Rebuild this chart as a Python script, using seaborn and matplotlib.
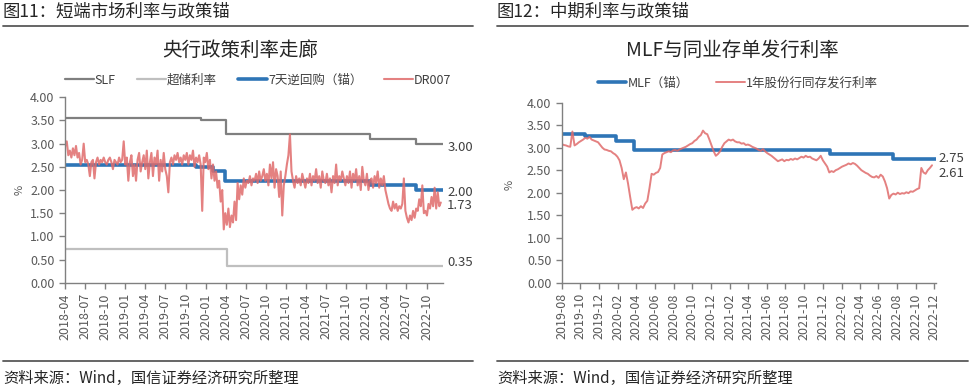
"""图11/图12：短端与中期利率、政策锚（seaborn 复刻）。"""

import matplotlib
matplotlib.use("Agg")
import matplotlib.pyplot as plt
import matplotlib.dates as mdates
from matplotlib.lines import Line2D
import numpy as np
import pandas as pd
import seaborn as sns

# ---------------- 数据：图11 ----------------
slf_fechas = ["2018-04-01", "2019-12-12", "2020-04-01", "2022-01-17", "2022-08-15", "2022-12-15"]
slf_valores = [3.55, 3.50, 3.20, 3.10, 3.00, 3.00]

exceso_fechas = ["2018-04-01", "2020-04-07", "2022-12-15"]
exceso_valores = [0.72, 0.35, 0.35]

repo_fechas = ["2018-04-01", "2019-11-18", "2020-02-03", "2020-03-30",
               "2022-01-17", "2022-08-15", "2022-12-15"]
repo_valores = [2.55, 2.50, 2.40, 2.20, 2.10, 2.00, 2.00]

# DR007 semanal desde 2018-04-02 (un trimestre por fila)
dr007_inicio = "2018-04-02"
dr007_valores = [
    2.95, 3.05, 2.75, 2.85, 2.70, 2.90, 2.75, 2.95, 2.70, 2.80, 2.55, 2.65, 3.00,
    2.60, 2.65, 2.55, 2.30, 2.60, 2.65, 2.25, 2.60, 2.70, 2.55, 2.65, 2.60, 2.70,
    2.60, 2.55, 2.65, 2.70, 2.60, 2.45, 2.65, 2.60, 2.55, 2.70, 2.60, 2.65, 3.05,
    2.55, 2.70, 2.20, 2.60, 2.75, 2.30, 2.55, 2.20, 2.65, 2.80, 2.40, 2.60, 2.75,
    2.45, 2.85, 2.25, 2.60, 2.80, 2.30, 2.70, 2.55, 2.85, 2.20, 2.65, 2.40, 2.80,
    2.45, 2.30, 1.95, 2.60, 2.70, 2.55, 2.75, 2.65, 2.80, 2.60, 2.70, 2.55, 2.75,
    2.65, 2.80, 2.55, 2.75, 2.65, 2.85, 2.50, 2.70, 2.60, 2.75, 2.55, 1.55, 2.70,
    2.60, 2.80, 2.45, 2.65, 2.25, 2.55, 2.20, 2.40, 2.05, 2.20, 1.75, 2.00, 1.15,
    1.50, 1.25, 1.60, 1.20, 1.45, 1.30, 1.75, 1.35, 2.15, 1.80, 2.10, 1.90, 2.25,
    2.05, 2.20, 2.15, 2.30, 2.10, 2.25, 2.20, 2.35, 2.15, 2.40, 2.20, 2.30, 2.45,
    2.20, 2.35, 2.10, 2.55, 2.25, 2.60, 2.05, 2.45, 2.30, 1.85, 2.40, 1.45, 2.10,
    2.30, 2.55, 2.75, 3.20, 2.40, 2.20, 2.05, 2.30, 2.15, 2.25, 2.10, 2.35, 2.20,
    2.05, 2.25, 2.15, 2.35, 2.10, 2.30, 2.20, 2.45, 2.15, 2.30, 2.05, 2.40, 2.20,
    2.15, 2.35, 2.10, 2.25, 1.95, 2.30, 2.15, 2.55, 2.10, 2.30, 2.20, 2.40, 2.25,
    2.10, 2.30, 2.15, 2.40, 2.05, 2.35, 2.20, 2.45, 2.10, 2.30, 2.00, 2.50, 2.20,
    2.10, 2.35, 2.00, 2.20, 2.25, 2.05, 2.30, 2.15, 2.40, 2.05, 2.25, 2.10, 2.30,
    2.00, 1.85, 1.70, 1.60, 1.55, 1.75, 1.60, 1.70, 1.55, 1.65, 1.60, 1.70, 2.25,
    1.55, 1.40, 1.30, 1.45, 1.35, 1.55, 1.40, 1.60, 1.55, 1.80, 1.65, 2.10, 1.50,
    1.55, 1.45, 1.70, 1.60, 1.85, 1.65, 2.05, 1.60, 1.95, 1.65, 1.73,
]

# ---------------- 数据：图12 ----------------
mlf_fechas = ["2019-08-01", "2019-10-17", "2020-01-27", "2020-03-24",
              "2021-12-25", "2022-07-20", "2022-12-06"]
mlf_valores = [3.30, 3.25, 3.15, 2.95, 2.85, 2.75, 2.75]

# 1年股份行同存发行利率, semanal desde 2019-08-01
ncd_inicio = "2019-08-01"
ncd_valores = [
    3.08, 3.06, 3.05, 3.03, 3.02, 3.36, 3.05, 3.08, 3.12, 3.15,
    3.18, 3.22, 3.20, 3.24, 3.18, 3.16, 3.14, 3.12, 3.06, 3.00,
    2.96, 2.95, 2.93, 2.92, 2.88, 2.85, 2.80, 2.72, 2.55, 2.30,
    2.45, 2.20, 1.90, 1.62, 1.66, 1.68, 1.65, 1.70, 1.66, 1.76,
    1.82, 2.10, 2.42, 2.40, 2.44, 2.46, 2.55, 2.85, 2.88, 2.90,
    2.92, 2.90, 2.94, 2.95, 2.93, 2.96, 2.98, 3.00, 3.02, 3.05,
    3.08, 3.10, 3.15, 3.18, 3.24, 3.28, 3.38, 3.32, 3.30, 3.18,
    3.05, 2.92, 2.82, 2.86, 2.92, 3.02, 3.10, 3.14, 3.18, 3.16,
    3.18, 3.14, 3.12, 3.12, 3.09, 3.10, 3.06, 3.07, 3.05, 3.02,
    3.00, 2.98, 2.95, 2.93, 2.97, 2.92, 2.88, 2.85, 2.82, 2.78,
    2.74, 2.70, 2.72, 2.74, 2.70, 2.73, 2.72, 2.75, 2.73, 2.76,
    2.74, 2.77, 2.80, 2.78, 2.82, 2.79, 2.80, 2.76, 2.74, 2.72,
    2.76, 2.82, 2.72, 2.65, 2.58, 2.45, 2.48, 2.46, 2.50, 2.52,
    2.55, 2.58, 2.60, 2.62, 2.65, 2.63, 2.66, 2.64, 2.60, 2.55,
    2.50, 2.47, 2.44, 2.42, 2.38, 2.35, 2.34, 2.37, 2.33, 2.40,
    2.36, 2.25, 2.10, 1.87, 1.95, 1.98, 1.96, 2.00, 1.97, 1.99,
    1.98, 2.01, 1.99, 2.03, 2.02, 2.05, 2.08, 2.10, 2.55, 2.45,
    2.42, 2.50, 2.55, 2.61,
]

# ---------------- 样式 ----------------
COLOR_SLF = "#7f7f7f"
COLOR_EXC = "#bfbfbf"
COLOR_AZUL = "#2e75b6"
COLOR_ROSA = "#e06b6b"
COLOR_TEXTO = "#404040"
COLOR_EJE = "#808080"

sns.set_theme(style="ticks")
plt.rcParams["font.family"] = ["Noto Sans CJK SC", "DejaVu Sans"]
plt.rcParams["axes.unicode_minus"] = False


def serie(fechas, valores):
    return pd.DataFrame({"fecha": pd.to_datetime(fechas), "valor": valores})


def serie_semanal(inicio, valores):
    fechas = pd.date_range(inicio, periods=len(valores), freq="7D")
    return pd.DataFrame({"fecha": fechas, "valor": valores})


def estilo_ejes(ax):
    for lado in ["top", "right"]:
        ax.spines[lado].set_visible(False)
    for lado in ["left", "bottom"]:
        ax.spines[lado].set_color(COLOR_EJE)
        ax.spines[lado].set_linewidth(1.0)
    ax.set_ylim(0, 4)
    ax.set_yticks(np.arange(0, 4.01, 0.5))
    ax.yaxis.set_major_formatter(plt.FuncFormatter(lambda v, _: f"{v:.2f}"))
    ax.tick_params(axis="both", direction="out", length=4, width=1.0,
                   color=COLOR_EJE, labelcolor="#595959", labelsize=9)
    ax.tick_params(axis="x", rotation=90)
    ax.set_xlabel("")
    ax.set_ylabel("")
    ax.grid(False)


fig = plt.figure(figsize=(9.69, 3.9), dpi=100)

# ---------------- 图11 ----------------
ax1 = fig.add_axes([65 / 969, 0.2751, 378 / 969, 0.4754])
sns.lineplot(data=serie(slf_fechas, slf_valores), x="fecha", y="valor", ax=ax1,
             color=COLOR_SLF, linewidth=1.6, drawstyle="steps-post", label="SLF")
sns.lineplot(data=serie(exceso_fechas, exceso_valores), x="fecha", y="valor", ax=ax1,
             color=COLOR_EXC, linewidth=1.6, drawstyle="steps-post", label="超储利率")
sns.lineplot(data=serie(repo_fechas, repo_valores), x="fecha", y="valor", ax=ax1,
             color=COLOR_AZUL, linewidth=2.6, drawstyle="steps-post", label="7天逆回购（锚）")
sns.lineplot(data=serie_semanal(dr007_inicio, dr007_valores), x="fecha", y="valor", ax=ax1,
             color=COLOR_ROSA, linewidth=1.5, alpha=0.85, label="DR007")
estilo_ejes(ax1)
ax1.set_xlim(pd.Timestamp("2018-04-01"), pd.Timestamp("2022-12-15"))
ax1.xaxis.set_major_locator(mdates.MonthLocator(bymonth=[1, 4, 7, 10]))
ax1.xaxis.set_major_formatter(mdates.DateFormatter("%Y-%m"))

fin1 = pd.Timestamp("2022-12-15")
for y_val, txt, dy in [(slf_valores[-1], "3.00", -3), (repo_valores[-1], "2.00", -2),
                       (dr007_valores[-1], "1.73", -2), (exceso_valores[-1], "0.35", 3)]:
    ax1.annotate(txt, xy=(fin1, y_val), xytext=(3, dy), textcoords="offset points",
                 va="center", ha="left", fontsize=9.5, color=COLOR_TEXTO,
                 annotation_clip=False)

ax1.legend(loc="center", bbox_to_anchor=(258 / 969, 1 - 80 / 390),
           bbox_transform=fig.transFigure, ncol=4, frameon=False, fontsize=9,
           handlelength=2.3, columnspacing=1.7, handletextpad=0.1, labelcolor="#404040")
fig.text(20 / 969, 1 - 190 / 390, "%", rotation=90, ha="center", va="center",
         fontsize=8, color="#595959")
fig.text(240 / 969, 1 - 50 / 390, "央行政策利率走廊", ha="center", va="center",
         fontsize=14, color="#262626")

# ---------------- 图12 ----------------
ax2 = fig.add_axes([561.7 / 969, 0.2751, 374 / 969, 0.4616])
sns.lineplot(data=serie(mlf_fechas, mlf_valores), x="fecha", y="valor", ax=ax2,
             color=COLOR_AZUL, linewidth=2.6, drawstyle="steps-post", label="MLF（锚）")
sns.lineplot(data=serie_semanal(ncd_inicio, ncd_valores), x="fecha", y="valor", ax=ax2,
             color=COLOR_ROSA, linewidth=1.4, alpha=0.85, label="1年股份行同存发行利率")
estilo_ejes(ax2)
ax2.set_xlim(pd.Timestamp("2019-08-01"), pd.Timestamp("2022-12-06"))
ax2.xaxis.set_major_locator(mdates.MonthLocator(bymonth=[2, 4, 6, 8, 10, 12]))
ax2.xaxis.set_major_formatter(mdates.DateFormatter("%Y-%m"))

fin2 = pd.Timestamp("2022-12-06")
ax2.annotate("2.75", xy=(fin2, mlf_valores[-1]), xytext=(2, 0), textcoords="offset points",
             va="center", ha="left", fontsize=9.5, color=COLOR_TEXTO, annotation_clip=False)
ax2.annotate("2.61", xy=(fin2, ncd_valores[-1]), xytext=(2, -6), textcoords="offset points",
             va="center", ha="left", fontsize=9.5, color=COLOR_TEXTO, annotation_clip=False)

ax2.legend(loc="center", bbox_to_anchor=(738 / 969, 1 - 83 / 390),
           bbox_transform=fig.transFigure, ncol=2, frameon=False, fontsize=9,
           handlelength=2.3, columnspacing=2.2, handletextpad=0.1, labelcolor="#404040")
fig.text(510 / 969, 1 - 185 / 390, "%", rotation=90, ha="center", va="center",
         fontsize=8, color="#595959")
fig.text(732 / 969, 1 - 50 / 390, "MLF与同业存单发行利率", ha="center", va="center",
         fontsize=14, color="#262626")

# ---------------- 标题、分隔线、来源 ----------------
fig.text(3 / 969, 1 - 12 / 390, "图11：短端市场利率与政策锚", ha="left", va="center",
         fontsize=12.5, color="#262626")
fig.text(497 / 969, 1 - 12 / 390, "图12：中期利率与政策锚", ha="left", va="center",
         fontsize=12.5, color="#262626")
for x0, x1 in [(3, 473), (497, 968)]:
    for yy in [26, 361]:
        fig.add_artist(Line2D([x0 / 969, x1 / 969], [1 - yy / 390, 1 - yy / 390],
                              color="#595959", linewidth=1.3))
fig.text(3 / 969, 1 - 378 / 390, "资料来源：Wind，国信证券经济研究所整理", ha="left",
         va="center", fontsize=11, color="#262626")
fig.text(497 / 969, 1 - 378 / 390, "资料来源：Wind，国信证券经济研究所整理", ha="left",
         va="center", fontsize=11, color="#262626")

fig.savefig("out.png", dpi=100, facecolor="white")
